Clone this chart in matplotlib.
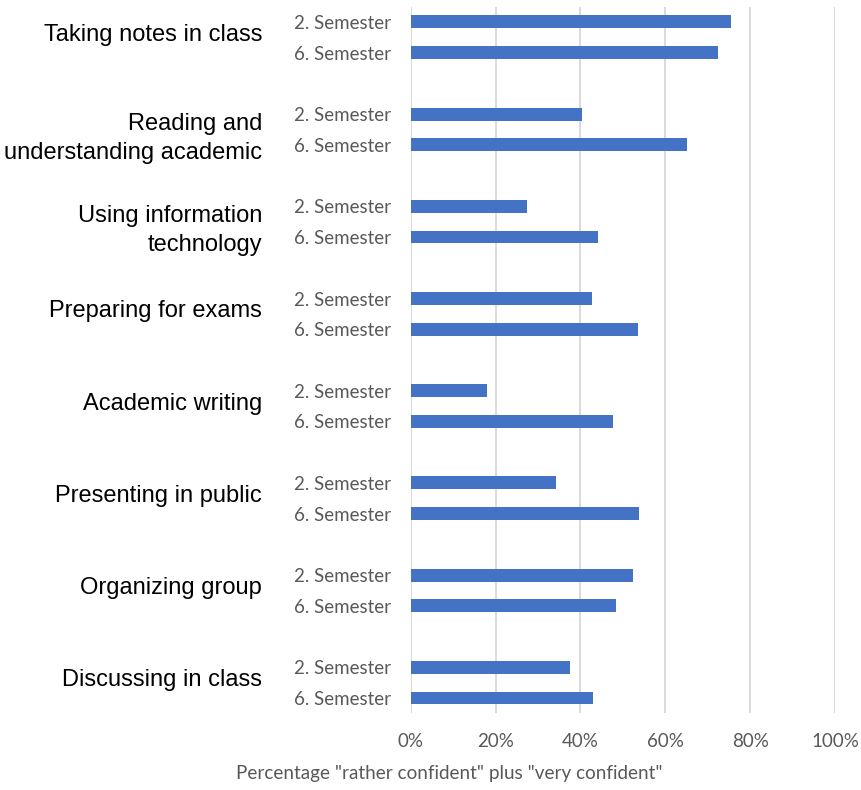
import matplotlib
matplotlib.use("Agg")
import matplotlib.pyplot as plt
import matplotlib.transforms as mtransforms
from matplotlib.ticker import PercentFormatter

# Skills, top to bottom
skills = [
    "Taking notes in class",
    "Reading and\nunderstanding academic",
    "Using information\ntechnology",
    "Preparing for exams",
    "Academic writing",
    "Presenting in public",
    "Organizing group",
    "Discussing in class",
]
semesters = ["2. Semester", "6. Semester"]

# Share of students "rather confident" plus "very confident" (%)
sem2 = [75.6, 40.3, 27.3, 42.8, 17.9, 34.2, 52.4, 37.6]
sem6 = [72.5, 65.2, 44.2, 53.6, 47.7, 53.7, 48.4, 43.0]

xticks = [0, 20, 40, 60, 80, 100]
xlabel = 'Percentage "rather confident" plus "very confident"'

bar_color = "#4472C4"
grid_color = "#D9D9D9"
label_gray = "#595959"
tick_font = ["Lato", "DejaVu Sans"]
group_font = ["Liberation Sans", "DejaVu Sans"]

fig = plt.figure(figsize=(8.62, 7.90), dpi=100)
ax = fig.add_axes([0.4765, 0.0970, 0.4922, 0.8947])

# each skill takes three slots: two bars and a blank spacer
positions, values, labels = [], [], []
for g in range(len(skills)):
    for s, vals in enumerate((sem2, sem6)):
        positions.append(3 * g + s)
        values.append(vals[g])
        labels.append(semesters[s])

ax.barh(positions, values, height=0.42, color=bar_color, zorder=3)

n_slots = 3 * len(skills) - 1
ax.set_ylim(n_slots - 0.5, -0.5)
ax.set_xlim(0, 100)

ax.set_yticks(positions)
ax.set_yticklabels(labels, fontfamily=tick_font, fontsize=13.5, color=label_gray)
ax.set_xticks(xticks)
ax.xaxis.set_major_formatter(PercentFormatter(decimals=0))
for t in ax.get_xticklabels():
    t.set_fontfamily(tick_font)
    t.set_fontsize(13.5)
    t.set_color(label_gray)
ax.tick_params(axis="y", length=0, pad=14)
ax.tick_params(axis="x", length=0, pad=14)

ax.grid(axis="x", color=grid_color, linewidth=1.4, zorder=0)
for side in ("top", "right", "bottom", "left"):
    ax.spines[side].set_visible(False)

# axis title, centred under the whole chart
fig.text(0.521, 0.021, xlabel, ha="center", va="center",
         fontfamily=tick_font, fontsize=13.6, color=label_gray)

# skill names to the left of the semester labels
trans = mtransforms.blended_transform_factory(fig.transFigure, ax.transData)
for g, name in enumerate(skills):
    y = 3 * g + 0.5
    if "\n" in name:
        y += 0.3
    else:
        y -= 0.08
    ax.text(0.304, y, name, transform=trans, ha="right", va="center",
            multialignment="right", fontfamily=group_font, fontsize=17,
            color="black", linespacing=1.4)

fig.savefig("out.png", dpi=100)
